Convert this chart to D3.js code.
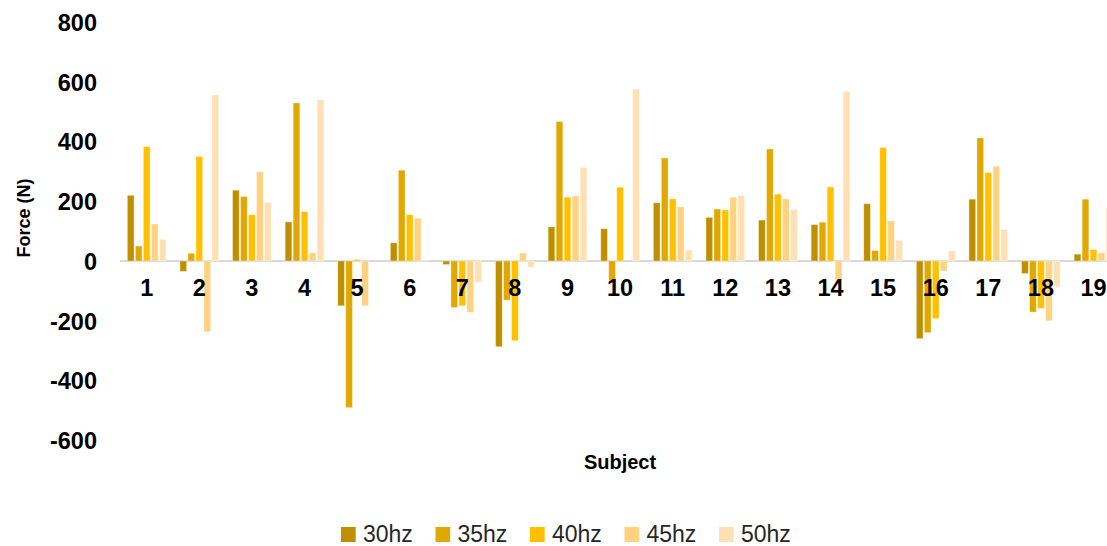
<!DOCTYPE html>
<html>
<head>
<meta charset="utf-8">
<script src="https://cdn.jsdelivr.net/npm/d3@7"></script>
<style>
  html, body { margin: 0; padding: 0; background: #fff; }
  svg { display: block; font-family: "Liberation Sans", Arial, sans-serif; }
</style>
</head>
<body>
<svg id="chart" width="1107" height="546"></svg>
<script>
const subjects = ["1","2","3","4","5","6","7","8","9","10","11","12","13","14","15","16","17","18","19"];
const seriesNames = ["30hz","35hz","40hz","45hz","50hz"];
const hz30 = [220, -35, 237, 131, -150, 61, -12, -287, 114, 108, 195, 146, 137, 122, 192, -260, 207, -42, 23];
const hz35 = [50, 26, 216, 529, -491, 304, -156, -131, 467, -66, 345, 174, 375, 130, 35, -240, 412, -171, 207];
const hz40 = [383, 350, 155, 166, 5, 155, -150, -267, 214, 247, 208, 171, 224, 248, 380, -193, 296, -159, 38];
const hz45 = [124, -237, 299, 28, -150, 143, -172, 27, 218, 0, 181, 214, 208, -66, 134, -34, 317, -200, 27];
const hz50 = [72, 556, 196, 539, 0, 1, -71, -22, 314, 575, 37, 219, 172, 567, 69, 34, 105, -87, 178];
const yTicks = [-600, -400, -200, 0, 200, 400, 600, 800];
const colors = ["#bf8f00", "#e0a800", "#ffc000", "#ffd280", "#ffe0b3"];

const seriesValues = [hz30, hz35, hz40, hz45, hz50];
const svg = d3.select("#chart");

const x = d3.scaleBand().domain(subjects).range([120.4, 1119.8]).padding(0);
const bw = x.bandwidth();
const xs = d3.scaleBand().domain(seriesNames)
  .range([bw / 2 - 20, bw / 2 + 20]).paddingInner(0.16).paddingOuter(0.08);
const y = d3.scaleLinear().domain([-600, 800]).range([440.25, 22]);
const color = d3.scaleOrdinal().domain(seriesNames).range(colors);

// y axis labels (no line)
const yAxis = d3.axisLeft(y).tickValues(yTicks).tickFormat(d => String(d)).tickSize(0).tickPadding(0);
const yg = svg.append("g").attr("transform", "translate(97,0)").call(yAxis);
yg.select(".domain").remove();
yg.selectAll("text")
  .attr("font-family", "Liberation Sans, Arial, sans-serif")
  .attr("font-size", 23.5).attr("font-weight", "bold").attr("fill", "#000")
  .attr("dy", "0.36em");

// zero line
svg.append("line")
  .attr("x1", 120).attr("x2", 1107)
  .attr("y1", y(0)).attr("y2", y(0))
  .attr("stroke", "#d9d9d9").attr("stroke-width", 2);

// bars
const data = [];
subjects.forEach((s, i) => {
  seriesNames.forEach((n, j) => {
    data.push({ subject: s, series: n, value: seriesValues[j][i] });
  });
});
svg.append("g").selectAll("rect").data(data).join("rect")
  .attr("x", d => x(d.subject) + xs(d.series))
  .attr("width", xs.bandwidth())
  .attr("y", d => y(Math.max(0, d.value)))
  .attr("height", d => Math.abs(y(d.value) - y(0)))
  .attr("fill", d => color(d.series))
  .attr("stroke", "#ffffff").attr("stroke-opacity", 0.45).attr("stroke-width", 0.8);

// category labels (drawn over bars)
const xAxis = d3.axisBottom(x).tickSize(0).tickPadding(0);
const xg = svg.append("g").attr("transform", "translate(0,289)").call(xAxis);
xg.select(".domain").remove();
xg.selectAll("text")
  .attr("font-family", "Liberation Sans, Arial, sans-serif")
  .attr("font-size", 23.5).attr("font-weight", "bold").attr("fill", "#000")
  .attr("dy", "0.3em");

// axis titles
svg.append("text")
  .attr("x", 620).attr("y", 469)
  .attr("text-anchor", "middle")
  .attr("font-size", 20).attr("font-weight", "bold").attr("fill", "#000")
  .text("Subject");
svg.append("text")
  .attr("transform", "translate(30,218) rotate(-90)")
  .attr("text-anchor", "middle")
  .attr("font-size", 18).attr("font-weight", "bold").attr("fill", "#000")
  .text("Force (N)");

// legend
const legend = svg.append("g");
const lg = legend.selectAll("g").data(seriesNames).join("g")
  .attr("transform", (d, i) => `translate(${341 + i * 94.5},527)`);
lg.append("rect").attr("width", 14.7).attr("height", 15)
  .attr("fill", d => color(d));
lg.append("text").attr("x", 22).attr("y", 15)
  .attr("font-size", 23).attr("fill", "#262626")
  .text(d => d);
</script>
</body>
</html>
